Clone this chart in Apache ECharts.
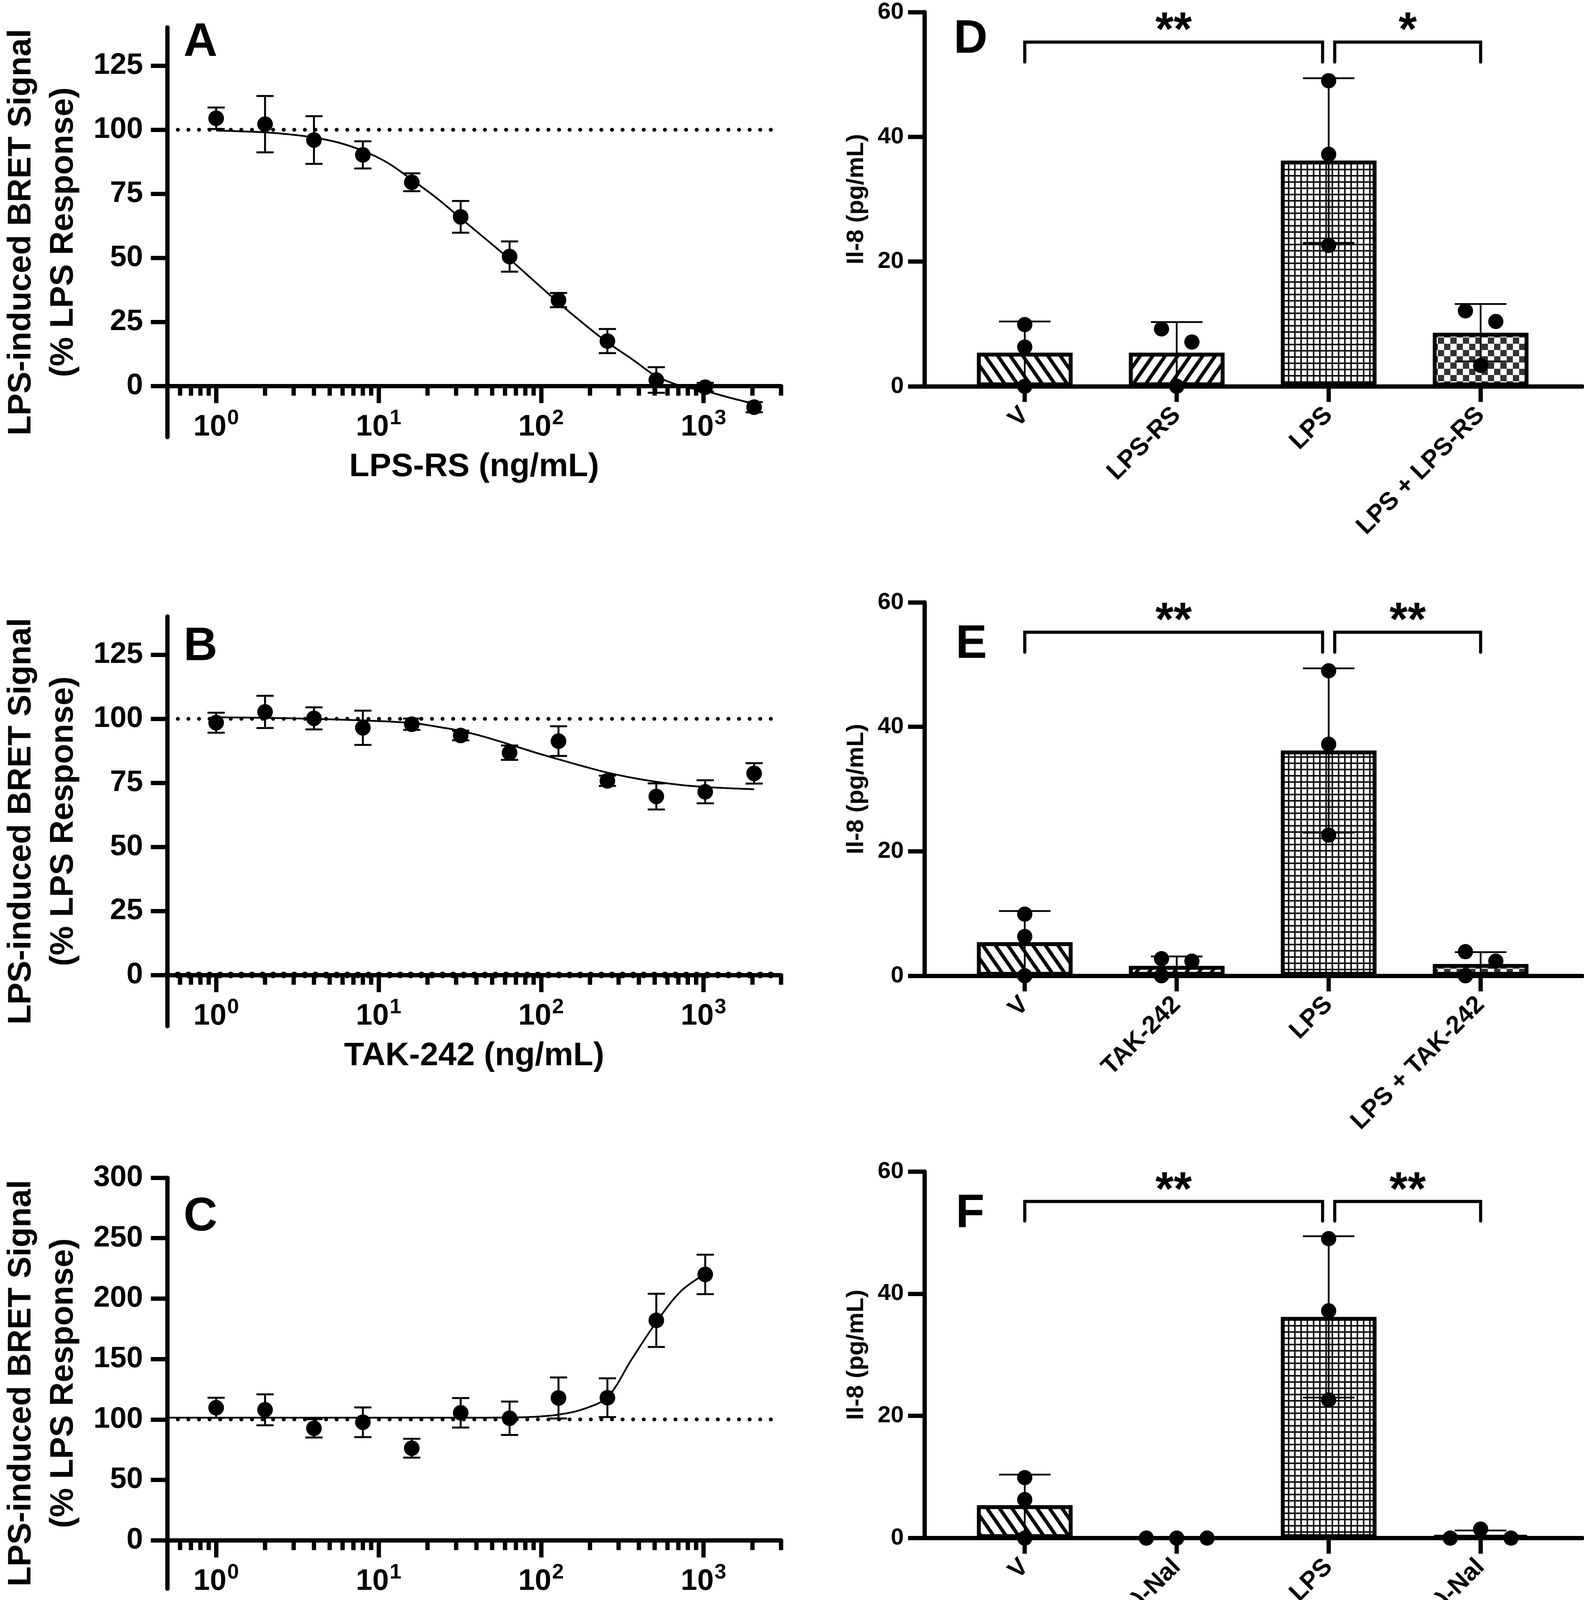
<!DOCTYPE html>
<html>
<head>
<meta charset="utf-8">
<script src="https://cdn.jsdelivr.net/npm/echarts@6/dist/echarts.min.js"></script>
<style>
html,body{margin:0;padding:0;background:#fff;}
#chart{width:4054px;height:4308px;}
</style>
</head>
<body>
<div id="chart"></div>
<script>
// ---------------- DATA ----------------
// Panels A-C: concentration-response (mean ± error), and fitted curve
const concA = [1, 2, 4, 8, 16, 32, 64, 128, 256, 512, 1024, 2048];
const meanA = [104.5, 102.2, 96.0, 90.2, 79.5, 66.0, 50.5, 33.5, 17.5, 2.3, -0.5, -8.3];
const errA  = [4.2, 11.0, 9.3, 5.3, 3.5, 6.2, 5.9, 2.8, 4.7, 5.0, 1.7, 2.0];
const fitXA = [1, 1.41, 2, 2.83, 4, 5.66, 8, 11.3, 16, 22.6, 32, 45.3, 64, 90.5, 128, 181, 256, 362, 512, 724, 1024, 1448, 2048];
const fitYA = [99.7, 99.4, 99.0, 98.2, 97.0, 95.0, 91.8, 87.2, 80.5, 73.5, 65.5, 57.5, 49.5, 41.0, 32.5, 24.5, 17.0, 10.5, 3.8, 0.0, -2.0, -4.6, -7.0];

const concB = [1, 2, 4, 8, 16, 32, 64, 128, 256, 512, 1024, 2048];
const meanB = [98.5, 102.7, 100.2, 96.5, 97.9, 93.5, 86.8, 91.3, 75.8, 69.7, 71.5, 78.7];
const errB  = [3.9, 6.3, 4.3, 6.7, 2.2, 1.9, 2.8, 5.8, 2.0, 5.1, 4.5, 4.0];
const fitXB = [1, 2, 4, 8, 16, 22.6, 32, 45.3, 64, 90.5, 128, 181, 256, 362, 512, 724, 1024, 1448, 2048];
const fitYB = [100.6, 100.4, 100.0, 99.4, 98.4, 97.0, 95.3, 92.9, 90.0, 87.0, 84.2, 81.5, 79.0, 77.0, 75.4, 74.2, 73.4, 72.9, 72.5];

const concC = [1, 2, 4, 8, 16, 32, 64, 128, 256, 512, 1024];
const meanC = [109.7, 108.0, 92.7, 97.7, 76.2, 105.5, 101.0, 117.8, 118.0, 182.0, 220.0];
const errC  = [8.3, 12.8, 7.6, 12.3, 7.8, 12.2, 13.8, 17.0, 16.0, 22.0, 16.3];
const fitXC = [0.5, 1, 2, 4, 8, 16, 32, 64, 90.5, 128, 181, 256, 362, 512, 724, 1024];
const fitYC = [101.5, 101.5, 101.5, 101.5, 101.5, 101.5, 101.5, 101.6, 102.2, 104.0, 108.5, 118.5, 150.0, 180.5, 206.0, 220.5];

const xNameA = 'LPS-RS (ng/mL)';
const xNameB = 'TAK-242 (ng/mL)';
const xNameC = '(+)-Naloxone (uM)';
const yNameBRET = 'LPS-induced BRET Signal\n(% LPS Response)';
const yTicksAB = [0, 25, 50, 75, 100, 125];
const yTicksC = [0, 50, 100, 150, 200, 250, 300];
const logMajor = [1, 10, 100, 1000];
const logMinor = [0.6, 0.7, 0.8, 0.9, 2, 3, 4, 5, 6, 7, 8, 9, 20, 30, 40, 50, 60, 70, 80, 90,
                  200, 300, 400, 500, 600, 700, 800, 900, 2000, 3000];
const refLevel = 100;

// Panels D-F: IL-8 (mean ± SD) with individual points
const catsD = ['V', 'LPS-RS', 'LPS', 'LPS + LPS-RS'];
const catsE = ['V', 'TAK-242', 'LPS', 'LPS + TAK-242'];
const catsF = ['V', '(+)-Nal', 'LPS', 'LPS + (+)-Nal'];
const meanD = [5.4, 5.4, 36.2, 8.6];
const sdD   = [5.0, 4.9, 13.2, 4.6];
const ptsD  = [[9.9, 6.3, 0], [9.2, 7.1, 0], [49.0, 37.2, 22.6], [12.1, 10.4, 3.35]];
const jitD  = [[0, 0, 0], [-0.1, 0.1, 0], [0, 0, 0], [-0.1, 0.1, 0]];
const meanE = [5.4, 1.6, 36.2, 1.9];
const sdE   = [5.0, 1.5, 13.2, 1.9];
const ptsE  = [[9.9, 6.3, 0], [2.75, 2.35, 0], [49.0, 37.2, 22.6], [3.87, 2.35, 0]];
const jitE  = [[0, 0, 0], [-0.1, 0.1, -0.1], [0, 0, 0], [-0.1, 0.1, -0.1]];
const meanF = [5.4, 0, 36.2, 0.45];
const sdF   = [5.0, 0, 13.2, 0.8];
const ptsF  = [[9.9, 6.3, 0], [0, 0, 0], [49.0, 37.2, 22.6], [0, 1.47, 0]];
const jitF  = [[0, 0, 0], [-0.2, 0, 0.2], [0, 0, 0], [-0.2, 0, 0.2]];
// significance brackets: [x start, x end, bracket top, bracket end, star level]
const bracketsD = [[0, 1.96, 55.2, 52.0, 56.8], [2.04, 3, 55.2, 52.0, 56.8]];
const starsD = ['**', '*'];
const bracketsE = [[0, 1.96, 55.2, 52.0, 56.8], [2.04, 3, 55.2, 52.0, 56.8]];
const starsE = ['**', '**'];
const bracketsF = [[0, 1.96, 55.1, 51.9, 56.7], [2.04, 3, 55.1, 51.9, 56.7]];
const starsF = ['**', '**'];
const yNameIL8 = 'Il-8 (pg/mL)';
const yTicksIL8 = [0, 20, 40, 60];
const panelLetters = ['A', 'B', 'C', 'D', 'E', 'F'];

// ---------------- STYLE / LAYOUT ----------------
const FONT = "'Liberation Sans', Arial, Helvetica, sans-serif";
const BLACK = '#000';
const AXW = 11;

const gridsLog = [
  {left: 419, top: 70, width: 1580, height: 1049},
  {left: 419, top: 1578, width: 1580, height: 1049},
  {left: 419, top: 3015, width: 1580, height: 1052}
];
const gridsBar = [
  {left: 2366, top: 31, width: 1684, height: 958},
  {left: 2366, top: 1542, width: 1684, height: 956},
  {left: 2366, top: 2999, width: 1684, height: 956}
];
const letterPos = [[513, 110], [513, 1657], [513, 3117], [2484, 102], [2486, 1651], [2483, 3108]];

// fill patterns
function makeTile(w, h, draw) {
  const c = document.createElement('canvas');
  c.width = w; c.height = h;
  const ctx = c.getContext('2d');
  ctx.fillStyle = '#fff';
  ctx.fillRect(0, 0, w, h);
  ctx.fillStyle = '#000';
  ctx.strokeStyle = '#000';
  draw(ctx, w, h);
  return c;
}
const tileBack = makeTile(32, 46, (ctx, w, h) => {
  ctx.lineWidth = 9;
  for (let k = -2; k <= 2; k++) {
    ctx.beginPath();
    ctx.moveTo(k * w - w, -h);
    ctx.lineTo(k * w + 2 * w, 2 * h);
    ctx.stroke();
  }
});
const tileFwd = makeTile(32, 46, (ctx, w, h) => {
  ctx.lineWidth = 9;
  for (let k = -2; k <= 2; k++) {
    ctx.beginPath();
    ctx.moveTo(k * w - w, 2 * h);
    ctx.lineTo(k * w + 2 * w, -h);
    ctx.stroke();
  }
});
const tileGrid = makeTile(16, 16, (ctx, w, h) => {
  ctx.fillStyle = '#111';
  ctx.fillRect(0, 0, w, 4);
  ctx.fillRect(0, 0, 4, h);
});
const tileCheck = makeTile(32, 32, (ctx, w, h) => {
  ctx.fillStyle = '#333';
  ctx.fillRect(0, 0, 16, 16);
  ctx.fillRect(16, 16, 16, 16);
});
const barPatterns = [tileBack, tileFwd, tileGrid, tileCheck].map(t => ({image: t, repeat: 'repeat'}));

const baseText = {fontFamily: FONT, fontWeight: 'bold', color: BLACK};

function errRender(capHalf, lw, clampZero) {
  return function (params, api) {
    const x = api.value(0), m = api.value(1), s = api.value(2);
    if (!(s > 0)) return null;
    let lo = m - s;
    if (clampZero) lo = Math.max(0, lo);
    const t = api.coord([x, m + s]);
    const b = api.coord([x, lo]);
    const st = {stroke: BLACK, lineWidth: lw};
    return {
      type: 'group',
      children: [
        {type: 'line', shape: {x1: t[0], y1: t[1], x2: b[0], y2: b[1]}, style: st},
        {type: 'line', shape: {x1: t[0] - capHalf, y1: t[1], x2: t[0] + capHalf, y2: t[1]}, style: st},
        {type: 'line', shape: {x1: b[0] - capHalf, y1: b[1], x2: b[0] + capHalf, y2: b[1]}, style: st}
      ]
    };
  };
}

const option = {
  animation: false,
  backgroundColor: '#fff',
  textStyle: {fontFamily: FONT},
  grid: [...gridsLog, ...gridsBar],
  xAxis: [],
  yAxis: [],
  series: [],
  graphic: panelLetters.map((L, i) => ({
    type: 'text',
    x: letterPos[i][0], y: letterPos[i][1],
    style: {text: L, font: 'bold 120px ' + FONT, fill: BLACK, align: 'center', verticalAlign: 'middle'},
    z: 100
  }))
};

// ---------- log panels ----------
const logPanels = [
  {conc: concA, mean: meanA, err: errA, fx: fitXA, fy: fitYA, yMin: -20, yMax: 140, yTicks: yTicksAB, xName: xNameA, xGap: 166, zeroDots: false},
  {conc: concB, mean: meanB, err: errB, fx: fitXB, fy: fitYB, yMin: -20, yMax: 140, yTicks: yTicksAB, xName: xNameB, xGap: 166, zeroDots: true},
  {conc: concC, mean: meanC, err: errC, fx: fitXC, fy: fitYC, yMin: -40, yMax: 300, yTicks: yTicksC, xName: xNameC, xGap: 193, zeroDots: false}
];
const LOGMIN = 0.5, LOGMAX = 3000;

logPanels.forEach((p, i) => {
  // x axis sits at y = 0: shift it up from the grid bottom
  const zeroShift = -gridsLog[i].height * (0 - p.yMin) / (p.yMax - p.yMin);
  option.xAxis.push({
    gridIndex: i, type: 'log', logBase: 10, min: LOGMIN, max: LOGMAX,
    position: 'bottom', offset: zeroShift,
    axisLine: {onZero: false, lineStyle: {color: BLACK, width: AXW}},
    axisTick: {customValues: logMajor, length: 44, lineStyle: {color: BLACK, width: AXW}},
    minorTick: {show: false},
    splitLine: {show: false},
    axisLabel: {
      customValues: logMajor,
      margin: 56,
      formatter: v => '{b|10}{s|' + Math.round(Math.log10(v)) + '}',
      rich: {
        b: {fontFamily: FONT, fontWeight: 'bold', color: BLACK, fontSize: 76, verticalAlign: 'bottom'},
        s: {fontFamily: FONT, fontWeight: 'bold', color: BLACK, fontSize: 54, verticalAlign: 'bottom', padding: [0, 0, 34, 2]}
      }
    },
    name: p.xName, nameLocation: 'middle', nameGap: p.xGap,
    nameTextStyle: Object.assign({fontSize: 84}, baseText)
  });
  option.yAxis.push({
    gridIndex: i, type: 'value', min: p.yMin, max: p.yMax,
    axisLine: {show: true, onZero: false, lineStyle: {color: BLACK, width: AXW}},
    axisTick: {show: true, customValues: p.yTicks, length: 42, lineStyle: {color: BLACK, width: AXW}},
    axisLabel: Object.assign({customValues: p.yTicks, fontSize: 76, margin: 62}, baseText),
    splitLine: {show: false},
    name: yNameBRET, nameLocation: 'middle', nameRotate: 90, nameGap: 211,
    nameTextStyle: Object.assign({fontSize: 84, lineHeight: 108}, baseText)
  });
  // dotted reference at 100
  option.series.push({
    type: 'line', xAxisIndex: i, yAxisIndex: i, silent: true, symbol: 'none', z: 2,
    data: [[LOGMIN, refLevel], [LOGMAX, refLevel]],
    lineStyle: {color: BLACK, width: 10, type: [0.1, 27], cap: 'round'}
  });
  if (p.zeroDots) {
    option.series.push({
      type: 'line', xAxisIndex: i, yAxisIndex: i, silent: true, symbol: 'none', z: 6,
      data: [[LOGMIN, 0], [LOGMAX, 0]],
      lineStyle: {color: BLACK, width: 17, type: [0.1, 27], cap: 'round'}
    });
  }
  // fitted curve
  option.series.push({
    type: 'line', xAxisIndex: i, yAxisIndex: i, silent: true, symbol: 'none', showSymbol: false,
    smooth: 0.35, z: 3,
    data: p.fx.map((x, k) => [x, p.fy[k]]),
    lineStyle: {color: BLACK, width: 4.5}
  });
  // error bars
  option.series.push({
    type: 'custom', xAxisIndex: i, yAxisIndex: i, silent: true, z: 4,
    encode: {x: 0, y: 1},
    data: p.conc.map((c, k) => [c, p.mean[k], p.err[k]]),
    renderItem: errRender(22, 5, false)
  });
  // points
  option.series.push({
    type: 'scatter', xAxisIndex: i, yAxisIndex: i, silent: true, z: 5,
    symbol: 'circle', symbolSize: 40,
    itemStyle: {color: BLACK, opacity: 1},
    data: p.conc.map((c, k) => [c, p.mean[k]])
  });
  // minor ticks of the log axis
  option.series.push({
    type: 'custom', xAxisIndex: i, yAxisIndex: i, silent: true, z: 1,
    encode: {x: 0, y: 1},
    data: logMinor.map(v => [v, 0]),
    renderItem: function (params, api) {
      const pt = api.coord([api.value(0), 0]);
      return {type: 'line', shape: {x1: pt[0], y1: pt[1], x2: pt[0], y2: pt[1] + 25},
              style: {stroke: BLACK, lineWidth: AXW}};
    }
  });
});

// ---------- bar panels ----------
const barPanels = [
  {cats: catsD, mean: meanD, sd: sdD, pts: ptsD, jit: jitD, br: bracketsD, stars: starsD},
  {cats: catsE, mean: meanE, sd: sdE, pts: ptsE, jit: jitE, br: bracketsE, stars: starsE},
  {cats: catsF, mean: meanF, sd: sdF, pts: ptsF, jit: jitF, br: bracketsF, stars: starsF}
];
const catPos = [0, 1, 2, 3];

barPanels.forEach((p, j) => {
  const i = 3 + j;
  option.xAxis.push({
    gridIndex: i, type: 'value', min: -0.66, max: 3.67,
    axisLine: {onZero: false, lineStyle: {color: BLACK, width: AXW}},
    axisTick: {customValues: catPos, length: 40, lineStyle: {color: BLACK, width: AXW}},
    splitLine: {show: false},
    axisLabel: Object.assign({
      customValues: catPos, rotate: 45, fontSize: 64, margin: 64,
      formatter: v => p.cats[Math.round(v)]
    }, baseText)
  });
  option.yAxis.push({
    gridIndex: i, type: 'value', min: 0, max: 60, interval: 20,
    axisLine: {show: true, onZero: false, lineStyle: {color: BLACK, width: AXW}},
    axisTick: {show: true, customValues: yTicksIL8, length: 42, lineStyle: {color: BLACK, width: AXW}},
    axisLabel: Object.assign({customValues: yTicksIL8, fontSize: 60, margin: 53}, baseText),
    splitLine: {show: false},
    name: yNameIL8, nameLocation: 'middle', nameRotate: 90, nameGap: 143,
    nameTextStyle: Object.assign({fontSize: 62}, baseText)
  });
  option.series.push({
    type: 'bar', xAxisIndex: i, yAxisIndex: i, silent: true, z: 2,
    barWidth: 245,
    itemStyle: {borderColor: BLACK, borderWidth: 10},
    data: p.mean.map((m, k) => ({value: [k, m], itemStyle: {color: barPatterns[k]}}))
  });
  option.series.push({
    type: 'custom', xAxisIndex: i, yAxisIndex: i, silent: true, z: 3,
    encode: {x: 0, y: 1},
    data: p.mean.map((m, k) => [k, m, p.sd[k]]),
    renderItem: errRender(66, 4.5, true)
  });
  const dots = [];
  p.pts.forEach((arr, k) => arr.forEach((v, q) => dots.push([k + p.jit[k][q], v])));
  option.series.push({
    type: 'scatter', xAxisIndex: i, yAxisIndex: i, silent: true, z: 5,
    symbol: 'circle', symbolSize: 39, itemStyle: {color: BLACK, opacity: 1},
    data: dots
  });
  option.series.push({
    type: 'custom', xAxisIndex: i, yAxisIndex: i, silent: true, z: 4,
    encode: {x: [0, 1], y: [2, 3, 4]},
    data: p.br,
    renderItem: function (params, api) {
      const x1 = api.value(0), x2 = api.value(1), yt = api.value(2), ye = api.value(3), ys = api.value(4);
      const a = api.coord([x1, ye]), b = api.coord([x1, yt]), c = api.coord([x2, yt]), d = api.coord([x2, ye]);
      const s = api.coord([(x1 + x2) / 2, ys]);
      return {
        type: 'group',
        children: [
          {type: 'polyline', shape: {points: [a, b, c, d]}, style: {stroke: BLACK, fill: 'none', lineWidth: 8, lineJoin: 'miter', lineCap: 'round'}},
          {type: 'text', x: s[0], y: s[1],
           style: {text: p.stars[params.dataIndex], font: 'bold 120px ' + FONT, fill: BLACK, align: 'center', verticalAlign: 'middle'}}
        ]
      };
    }
  });
});

const chart = echarts.init(document.getElementById('chart'), null, {renderer: 'canvas', width: 4054, height: 4308});
chart.setOption(option);
</script>
</body>
</html>
